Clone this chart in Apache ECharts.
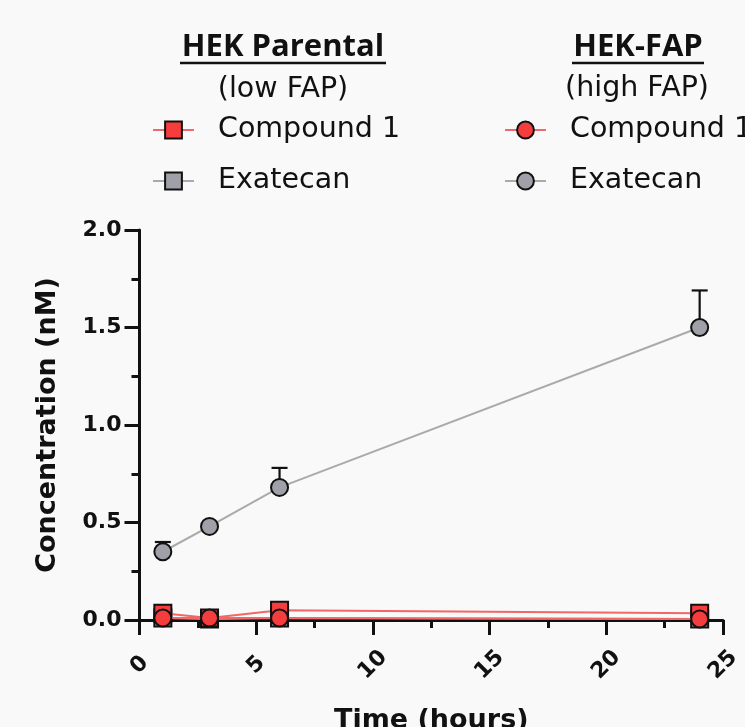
<!DOCTYPE html>
<html>
<head>
<meta charset="utf-8">
<script src="https://cdn.jsdelivr.net/npm/echarts@6/dist/echarts.min.js"></script>
<style>
html,body{margin:0;padding:0;background:#f9f9f9;}
#c{width:745px;height:727px;}
</style>
</head>
<body>
<div id="c"></div>
<script>
// ---- data ----
const timeHours = [1, 3, 6, 24];
const parentalCompound1 = [0.035, 0.01, 0.05, 0.035];
const parentalExatecan = [0.01, 0.005, 0.01, 0.005];
const fapCompound1 = [0.01, 0.01, 0.01, 0.005];
const fapExatecan = [0.35, 0.48, 0.68, 1.50];
const fapExatecanErr = [0.05, 0.0, 0.10, 0.19];
const groupTitles = ['HEK Parental', 'HEK-FAP'];
const groupSubtitles = ['(low FAP)', '(high FAP)'];
const seriesLabels = ['Compound 1', 'Exatecan'];

const RED = '#f53d3d', RED_LINE = '#f06868';
const GRAY = '#a0a0a8', GRAY_LINE = '#aaaaaa';

function pts(ys) { return timeHours.map((x, i) => [x, ys[i]]); }

const chart = echarts.init(document.getElementById('c'));

const legendText = {
  fontFamily: 'DejaVu Sans', fontSize: 28.5, color: '#111',
  lineHeight: 30, padding: [0, 0, 0, 19]
};

function lineSeries(name, ys, symbol, fill, lineColor, z) {
  return {
    name: name, type: 'line', data: pts(ys), symbol: symbol, symbolSize: 17,
    z: z,
    lineStyle: { color: lineColor, width: 2 },
    itemStyle: { color: fill, borderColor: '#111', borderWidth: 2 },
    emphasis: { disabled: true }, animation: false
  };
}

const titleFont = { fontFamily: 'Open Sans', fontWeight: 'bold', fontSize: 31, fill: '#111' };

const option = {
  backgroundColor: '#f9f9f9',
  animation: false,
  grid: { left: 139.5, right: 22, top: 230, bottom: 107, outerBoundsMode: 'none' },
  graphic: [
    { type: 'text', style: Object.assign({ text: groupTitles[0], x: 283, y: 47, align: 'center', verticalAlign: 'middle' }, titleFont) },
    { type: 'line', shape: { x1: 180, y1: 63, x2: 386, y2: 63 }, style: { stroke: '#111', lineWidth: 2.5 } },
    { type: 'text', style: { text: groupSubtitles[0], x: 283, y: 90, align: 'center', verticalAlign: 'middle', fontFamily: 'DejaVu Sans', fontSize: 28.5, fill: '#111' } },
    { type: 'text', style: Object.assign({ text: groupTitles[1], x: 638, y: 47, align: 'center', verticalAlign: 'middle' }, titleFont) },
    { type: 'line', shape: { x1: 572, y1: 63, x2: 704, y2: 63 }, style: { stroke: '#111', lineWidth: 2.5 } },
    { type: 'text', style: { text: groupSubtitles[1], x: 637, y: 89, align: 'center', verticalAlign: 'middle', fontFamily: 'DejaVu Sans', fontSize: 28.5, fill: '#111' } }
  ],
  legend: [
    {
      orient: 'vertical', left: 152, top: 115, padding: 0, itemGap: 21,
      itemWidth: 41, itemHeight: 21,
      data: ['P ' + seriesLabels[0], 'P ' + seriesLabels[1]],
      formatter: n => n.slice(2),
      textStyle: legendText, selectedMode: false
    },
    {
      orient: 'vertical', left: 504, top: 115, padding: 0, itemGap: 21,
      itemWidth: 41, itemHeight: 21,
      data: ['F ' + seriesLabels[0], 'F ' + seriesLabels[1]],
      formatter: n => n.slice(2),
      textStyle: legendText, selectedMode: false
    }
  ],
  xAxis: {
    type: 'value', min: 0, max: 25, interval: 5,
    name: 'Time (hours)', nameLocation: 'middle', nameGap: 87,
    nameTextStyle: { fontFamily: 'DejaVu Sans', fontWeight: 'bold', fontSize: 27, color: '#111' },
    axisLine: { show: true, onZero: false, lineStyle: { color: '#111', width: 3 } },
    axisTick: { show: true, length: 15, lineStyle: { color: '#111', width: 3 } },
    minorTick: { show: true, splitNumber: 2, length: 8, lineStyle: { color: '#111', width: 3 } },
    axisLabel: { rotate: 45, margin: 45, align: 'center', verticalAlign: 'middle', fontFamily: 'DejaVu Sans', fontWeight: 'bold', fontSize: 22, color: '#111' },
    splitLine: { show: false }
  },
  yAxis: {
    type: 'value', min: 0, max: 2, interval: 0.5,
    name: 'Concentration (nM)', nameLocation: 'middle', nameGap: 78,
    nameTextStyle: { fontFamily: 'DejaVu Sans', fontWeight: 'bold', fontSize: 27, color: '#111' },
    axisLine: { show: true, lineStyle: { color: '#111', width: 3 } },
    axisTick: { show: true, length: 15, lineStyle: { color: '#111', width: 3 } },
    minorTick: { show: true, splitNumber: 2, length: 8, lineStyle: { color: '#111', width: 3 } },
    axisLabel: { margin: 18, formatter: v => v.toFixed(1), fontFamily: 'DejaVu Sans', fontWeight: 'bold', fontSize: 22, color: '#111' },
    splitLine: { show: false }
  },
  series: [
    lineSeries('P ' + seriesLabels[1], parentalExatecan, 'rect', GRAY, GRAY_LINE, 2),
    lineSeries('P ' + seriesLabels[0], parentalCompound1, 'rect', RED, RED_LINE, 3),
    lineSeries('F ' + seriesLabels[0], fapCompound1, 'circle', RED, RED_LINE, 4),
    {
      name: 'err', type: 'custom', z: 4.5, silent: true,
      data: timeHours.map((x, i) => [x, fapExatecan[i], fapExatecanErr[i]]),
      renderItem: function (params, api) {
        const x = api.value(0), y = api.value(1), e = api.value(2);
        if (!e) return null;
        const p0 = api.coord([x, y]);
        const p1 = api.coord([x, y + e]);
        const st = { stroke: '#111', lineWidth: 2.2 };
        return {
          type: 'group', children: [
            { type: 'line', shape: { x1: p0[0], y1: p0[1], x2: p1[0], y2: p1[1] }, style: st },
            { type: 'line', shape: { x1: p1[0] - 8, y1: p1[1], x2: p1[0] + 8, y2: p1[1] }, style: st }
          ]
        };
      },
      animation: false
    },
    lineSeries('F ' + seriesLabels[1], fapExatecan, 'circle', GRAY, GRAY_LINE, 5)
  ]
};
chart.setOption(option);
</script>
</body>
</html>
